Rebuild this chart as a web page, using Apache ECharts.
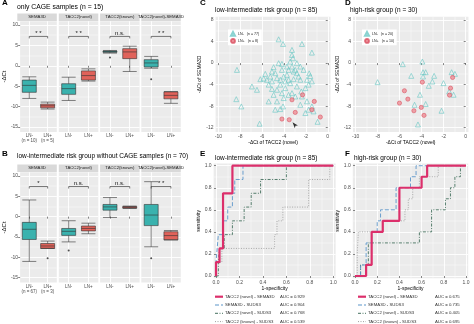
<!DOCTYPE html>
<html><head><meta charset="utf-8">
<script src="https://cdn.jsdelivr.net/npm/echarts@6/dist/echarts.min.js"></script>
<style>html,body{margin:0;padding:0;background:#fff}#c{width:474px;height:324px}</style>
</head><body><div id="c"></div>
<script>
// ---------------- DATA ----------------
const boxCats = ['LN-', 'LN+'];
const nLabelsA = ['(n = 10)', '(n = 5)'];
const nLabelsB = ['(n = 67)', '(n = 3)'];
const facetNames = ['SEMA3D', 'TACC2(novel)', 'TACC2(known)', 'TACC2(novel)-SEMA3D'];
const titleA = 'only CAGE samples (n = 15)';
const titleB = 'low-intermediate risk group without CAGE samples (n = 70)';
const titleC = 'low-intermediate risk group (n = 85)';
const titleD = 'high-risk group (n = 30)';
const titleE = 'low-intermediate risk group (n = 85)';
const titleF = 'high-risk group (n = 30)';
// box stats [min, Q1, median, Q3, max] : [LN-, LN+] per facet
const boxA_SEMA3D = [[-8, -6.5, -4.8, -3.5, -2.7], [-10.6, -10.3, -9.8, -9.4, -8.9]];
const boxA_novel  = [[-8.5, -7, -5.6, -4.4, -2.8], [-3.75, -3.5, -2.4, -1.25, -0.75]];
const boxA_known  = [[3.1, 3.3, 3.45, 3.6, 3.75], [-1.4, 1.75, 3.4, 4.2, 4.8]];
const boxA_diff   = [[-0.6, -0.3, 0.7, 1.5, 2.3], [-9.2, -8.1, -7.25, -6.4, -6.3]];
const boxB_SEMA3D = [[-11, -5.6, -3.1, -1.4, 4.1], [-7.8, -7.8, -7.2, -6.6, -6.0]];
const boxB_novel  = [[-6.2, -4.6, -3.6, -2.9, -1.0], [-4.2, -3.5, -2.9, -2.3, -1.6]];
const boxB_known  = [[-0.2, 1.6, 2.4, 3.0, 4.7], [2.0, 2.1, 2.3, 2.5, 2.6]];
const boxB_diff   = [[-7.4, -2.2, 0.4, 3.0, 8.6], [-5.7, -5.7, -4.65, -3.7, -3.4]];
// outliers [categoryIndex, value]
const outA = [[], [], [[0, 2.0]], [[0, -3.3]]];
const outB = [[[1, -10.2]], [[0, -8.3]], [], [[0, -10.2]]];
const sigA = ['* *', '* *', 'n.s.', '* *'];
const sigB = ['*', 'n.s.', 'n.s.', '* *'];
const bracketLevelA = 7.2, bracketLevelB = 7.4;

const legendC = ['LN-   (n = 77)', 'LN+   (n = 8)'];
const legendD = ['LN-   (n = 20)', 'LN+   (n = 10)'];
const C_neg = [[-4.49,4.42],[-4.09,3.56],[-2.36,3.56],[-1.45,1.95],[-3.27,1.52],[-3.18,0.9],[-8.3,-1.26],[-8.36,-6.7],[-7.9,-8.05],[-6.23,-11.26],
 [-6.93,-4.34],[-6.47,-4.96],[-5.71,-2.0],[-6.16,-2.99],[-5.4,-4.0],[-5.1,-4.8],[-4.49,-0.02],[-4.19,-0.15],[-4.95,-0.76],[-4.8,-1.87],
 [-4.64,-2.8],[-4.34,-3.1],[-4.03,-2.5],[-3.73,-2.18],[-3.58,-1.26],[-3.27,-0.64],[-2.97,-1.26],[-2.82,-1.87],[-2.67,-2.5],[-2.51,-3.1],
 [-3.12,-2.99],[-3.43,-3.73],[-3.88,-4.65],[-4.19,-5.58],[-4.03,-6.5],[-4.64,-7.12],[-5.4,-7.12],[-4.34,-8.54],[-4.8,-8.66],[-2.82,-4.34],
 [-2.42,-5.27],[-2.05,-4.65],[-1.75,-4.0],[-1.6,-2.4],[-1.7,-1.9],[-1.9,-3.1],[-2.36,-6.2],[-1.9,-7.1],[-1.75,-8.66],[-2.05,-9.28],
 [-0.93,-10.9],[-1.3,-8.97],[-3.58,-5.9],[-3.27,-5.58],[-2.97,-6.2],[-5.25,-2.5],[-5.1,-3.4],[-5.56,-3.1],[-4.19,-1.26],[-3.73,-0.64],
 [-3.43,0.29],[-2.82,-0.02],[-2.51,-0.64],[-3.58,-3.1],[-4.34,-4.0],[-4.64,-4.96],[-4.95,-5.9],[-2.51,-7.74],[-1.45,-8.05],[-2.21,-1.26],
 [-3.12,-1.57],[-3.88,-3.4],[-1.45,-3.4],[-4.09,-8.05],[-5.1,-1.57],[-5.86,-2.87],[-3.27,2.45]];
const C_pos = [[-3.27,-6.81],[-2.3,-5.9],[-1.23,-7.12],[-1.45,-8.66],[-2.97,-9.16],[-4.19,-10.39],[-3.52,-10.52],[-0.68,-10.02]];
const C_mark = [[-3.22,-11.0]];
const D_neg = [[-5.72,-0.2],[-3.94,0.29],[-4.95,-2.37],[-3.88,-1.69],[-3.64,-1.69],[-3.88,-2.49],[-2.87,-2.37],[-3.03,-3.42],[-3.36,-4.22],[-2.02,-3.72],
 [-1.28,-1.69],[-0.98,-2.0],[-8.01,-3.54],[-1.5,-5.27],[-1.1,-5.88],[-4.16,-5.88],[-3.64,-7.6],[-4.65,-7.74],[-2.2,-8.85],[-4.34,-11.4]];
const D_pos = [[-3.94,-3.54],[-1.19,-2.67],[-1.38,-4.65],[-1.47,-5.95],[-5.57,-5.14],[-5.26,-6.69],[-6.02,-7.43],[-4.04,-8.23],[-4.71,-8.85],[-3.79,-9.71]];

const rocNames = ['TACC2 (novel) - SEMA3D', 'SEMA3D - SUDS3', 'TACC2 (novel) - SUDS3', 'TACC2 (known) - SUDS3'];
const aucE = ['0.929', '0.904', '0.768', '0.539'];
const aucF = ['0.675', '0.735', '0.405', '0.695'];
// ROC vertices [1-specificity, sensitivity]
const rocE_novelSEMA3D = [[0,0],[0,0.125],[0.03,0.25],[0.06,0.75],[0.14,1],[1,1]];
const rocE_SEMA3DSUDS3 = [[0,0],[0,0.125],[0.01,0.25],[0.02,0.375],[0.06,0.5],[0.1,0.625],[0.14,0.75],[0.16,0.875],[0.23,1],[1,1]];
const rocE_novelSUDS3  = [[0,0],[0.02,0.125],[0.03,0.25],[0.07,0.375],[0.14,0.5],[0.24,0.625],[0.3,0.75],[0.38,0.875],[0.6,1],[1,1]];
const rocE_knownSUDS3  = [[0,0],[0,0.125],[0.05,0.25],[0.5,0.375],[0.52,0.5],[0.57,0.625],[0.79,0.875],[0.97,1],[1,1]];
const rocF_novelSEMA3D = [[0,0],[0.1,0.1],[0.15,0.4],[0.25,0.5],[0.4,0.8],[0.6,0.9],[0.65,1],[1,1]];
const rocF_SEMA3DSUDS3 = [[0,0],[0.05,0.1],[0.1,0.3],[0.15,0.4],[0.2,0.5],[0.23,0.6],[0.37,0.8],[0.5,0.9],[0.55,1],[1,1]];
const rocF_novelSUDS3  = [[0,0],[0.05,0.1],[0.12,0.3],[0.58,0.4],[0.69,0.6],[0.815,0.7],[0.86,0.8],[0.9,0.9],[0.95,1],[1,1]];
const rocF_knownSUDS3  = [[0,0],[0.02,0.2],[0.03,0.4],[0.25,0.5],[0.45,0.6],[0.48,0.7],[0.52,0.8],[0.58,0.9],[0.75,1],[1,1]];

const boxYMajor = [-15, -10, -5, 0, 5, 10];
const boxYMinor = [-12.5, -7.5, -2.5, 2.5, 7.5];
const scXMajor = [-10, -8, -6, -4, -2, 0];
const scXMinor = [-9, -7, -5, -3, -1];
const scYMajor = [-12, -8, -4, 0, 4, 8];
const scYMinor = [-10, -6, -2, 2, 6];
const rocMajor = [0, 0.2, 0.4, 0.6, 0.8, 1.0];
const rocMinor = [0.1, 0.3, 0.5, 0.7, 0.9];

// ---------------- BUILD ----------------
const FONT = '"Liberation Sans", Arial, sans-serif';
const TEAL = '#3AB2AE', RED = '#E0625A';
const grids = [], xAxis = [], yAxis = [], series = [], graphic = [], legend = [];

function addGrid(l, t, w, h) {
  grids.push({left: l, top: t, width: w, height: h, show: true, backgroundColor: '#EBEBEB', borderWidth: 0});
  return grids.length - 1;
}
function valueAxes(list, gi, min, max, majors, minors, labels, fmt, extra) {
  list.push(Object.assign({
    type: 'value', gridIndex: gi, min: min, max: max,
    axisLine: {show: false},
    axisTick: {show: labels, length: 2, lineStyle: {color: '#333', width: 0.6}, customValues: majors},
    axisLabel: {show: labels, customValues: majors, fontSize: 5, color: '#4D4D4D', margin: 2, fontFamily: FONT, formatter: fmt},
    splitLine: {show: true, lineStyle: {color: '#fff', width: 0.9}}
  }, extra || {}));
  const idx = list.length - 1;
  list.push({type: 'value', gridIndex: gi, min: min, max: max, axisLine: {show: false},
    axisTick: {show: false, customValues: minors}, axisLabel: {show: false, customValues: minors},
    splitLine: {show: true, lineStyle: {color: '#fff', width: 0.4}}});
  return idx;
}
function text(t, x, y, size, opts) {
  graphic.push({type: 'text', x: x, y: y, silent: true, z: 100,
    style: Object.assign({text: t, fontSize: size, fontFamily: FONT, fill: '#000', align: 'left', verticalAlign: 'middle'}, opts || {})});
}
function bracket(xi, yi, level, label) {
  series.push({type: 'custom', xAxisIndex: xi, yAxisIndex: yi, silent: true, z: 5, data: [[0, level, 1]],
    renderItem: function (params, api) {
      const p0 = api.coord([0, api.value(1)]);
      const p1 = api.coord([api.value(2), api.value(1)]);
      return {type: 'group', children: [
        {type: 'polyline', shape: {points: [[p0[0], p0[1] + 2], [p0[0], p0[1]], [p1[0], p1[1]], [p1[0], p1[1] + 2]]},
          style: {stroke: '#222', lineWidth: 0.6, fill: null}},
        {type: 'text', x: (p0[0] + p1[0]) / 2, y: p0[1] - 0.3,
          style: {text: label, fontSize: 6, fontFamily: FONT, fill: '#111', align: 'center', verticalAlign: 'bottom'}}
      ]};
    }});
}

const FACET_L = [17.3, 58.8, 100.1, 141.3], FACET_W = 39.5;
const boxPanels = [
  {top: 21.3, h: 110.6, boxes: [boxA_SEMA3D, boxA_novel, boxA_known, boxA_diff], out: outA, sig: sigA, lvl: bracketLevelA, n: nLabelsA},
  {top: 172.3, h: 110.3, boxes: [boxB_SEMA3D, boxB_novel, boxB_known, boxB_diff], out: outB, sig: sigB, lvl: bracketLevelB, n: nLabelsB}
];
boxPanels.forEach(function (P) {
  for (let f = 0; f < 4; f++) {
    const gi = addGrid(FACET_L[f], P.top, FACET_W, P.h);
    xAxis.push({type: 'category', gridIndex: gi, data: boxCats, axisLine: {show: false},
      axisTick: {show: true, alignWithLabel: true, length: 2, lineStyle: {color: '#333', width: 0.6}},
      axisLabel: {interval: 0, fontSize: 4.5, color: '#4D4D4D', margin: 1.5, lineHeight: 5.2, fontFamily: FONT,
        formatter: (function (ff, nl) { return function (v, i) { return ff === 0 ? v + '\n' + nl[i] : v; }; })(f, P.n)},
      splitLine: {show: true, alignWithLabel: true, lineStyle: {color: '#fff', width: 0.9}}});
    const xi = xAxis.length - 1;
    const yi = valueAxes(yAxis, gi, -16.2, 10.9, boxYMajor, boxYMinor, f === 0, null,
      f === 0 ? {name: '-ΔCt', nameLocation: 'middle', nameGap: 9, nameTextStyle: {fontSize: 6, fontFamily: FONT, color: '#000'}} : {});
    series.push({type: 'boxplot', xAxisIndex: xi, yAxisIndex: yi, boxWidth: [14, 14], silent: true,
      itemStyle: {borderColor: '#333', borderWidth: 0.6},
      data: [{value: P.boxes[f][0], itemStyle: {color: TEAL}}, {value: P.boxes[f][1], itemStyle: {color: RED}}]});
    series.push({type: 'scatter', xAxisIndex: xi, yAxisIndex: yi, symbolSize: 2, silent: true,
      itemStyle: {color: '#222'}, data: P.out[f]});
    bracket(xi, yi, P.lvl, P.sig[f]);
    graphic.push({type: 'rect', silent: true, shape: {x: FACET_L[f], y: P.top - 7.8, width: FACET_W, height: 7.6}, style: {fill: '#D9D9D9'}});
    text(facetNames[f], FACET_L[f] + FACET_W / 2, P.top - 4, 4.3, {align: 'center', fill: '#1A1A1A'});
  }
});

// scatter panels
const scPanels = [
  {l: 215.6, w: 114.9, neg: C_neg, pos: C_pos, names: legendC, legL: 228, nameGapY: 8},
  {l: 352.95, w: 115.5, neg: D_neg, pos: D_pos, names: legendD, legL: 362, nameGapY: 8}
];
scPanels.forEach(function (P, k) {
  const gi = addGrid(P.l, 16.8, P.w, 115.2);
  const xi = valueAxes(xAxis, gi, -10.25, 0.25, scXMajor, scXMinor, true, null,
    {name: '-ΔCt of TACC2 (novel)', nameLocation: 'middle', nameGap: 7, nameTextStyle: {fontSize: 5, fontFamily: FONT, color: '#000'}});
  const yi = valueAxes(yAxis, gi, -12.8, 8.6, scYMajor, scYMinor, true, null,
    {name: '-ΔCt of SEMA3D', nameLocation: 'middle', nameGap: P.nameGapY, nameTextStyle: {fontSize: 5, fontFamily: FONT, color: '#000'}});
  series.push({type: 'scatter', name: P.names[0], xAxisIndex: xi, yAxisIndex: yi, symbol: 'triangle', symbolSize: 5, silent: true,
    itemStyle: {color: 'rgba(0,0,0,0)', borderColor: '#6CC8C5', borderWidth: 0.8}, data: P.neg});
  series.push({type: 'scatter', name: P.names[1], xAxisIndex: xi, yAxisIndex: yi, symbol: 'circle', symbolSize: 4.2, silent: true,
    itemStyle: {color: '#EE8D95', borderColor: '#D94B5C', borderWidth: 0.7}, data: P.pos});
  if (k === 0) series.push({type: 'scatter', xAxisIndex: xi, yAxisIndex: yi, symbol: 'arrow', symbolRotate: 40, symbolSize: [3, 6], silent: true,
    itemStyle: {color: '#000'}, data: C_mark});
  legend.push({data: P.names, left: P.legL, top: 29.5, orient: 'vertical', backgroundColor: '#fff', padding: [1.5, 2.5, 1.5, 2],
    itemGap: 1.2, itemWidth: 4, itemHeight: 3.8, selectedMode: false,
    textStyle: {fontSize: 3.6, fontFamily: FONT, color: '#222', padding: [0, 0, 0, -2]}});
});

// ROC panels
const rocStyles = [
  {color: '#DC2F6B', width: 2.2, type: 'solid'},
  {color: '#5B95C9', width: 0.9, type: [4, 2]},
  {color: '#44705E', width: 0.9, type: [3, 1.5, 1, 1.5]},
  {color: '#A0A0A0', width: 0.9, type: [1, 1.5]}
];
const rocPanels = [
  {l: 213.65, w: 122, curves: [rocE_novelSEMA3D, rocE_SEMA3DSUDS3, rocE_novelSUDS3, rocE_knownSUDS3], auc: aucE, symX: 215, txtX: 225, aucX: 280, gapY: 9},
  {l: 352.8, w: 115.4, curves: [rocF_novelSEMA3D, rocF_SEMA3DSUDS3, rocF_novelSUDS3, rocF_knownSUDS3], auc: aucF, symX: 358, txtX: 368, aucX: 435, gapY: 8}
];
const legRows = [296.7, 305, 313.3, 321.6];
rocPanels.forEach(function (P) {
  const gi = addGrid(P.l, 163.5, P.w, 114.7);
  const fmt = function (v) { return v.toFixed(1); };
  const xi = valueAxes(xAxis, gi, -0.02, 1.02, rocMajor, rocMinor, true, fmt,
    {name: '1-specificity', nameLocation: 'middle', nameGap: 6.5, nameTextStyle: {fontSize: 5, fontFamily: FONT, color: '#000'}});
  const yi = valueAxes(yAxis, gi, -0.02, 1.02, rocMajor, rocMinor, true, fmt,
    {name: 'sensitivity', nameLocation: 'middle', nameGap: P.gapY, nameTextStyle: {fontSize: 5, fontFamily: FONT, color: '#000'}});
  for (let c = 3; c >= 0; c--) {
    series.push({type: 'line', name: rocNames[c], xAxisIndex: xi, yAxisIndex: yi, step: 'end', symbol: 'none', silent: true,
      lineStyle: rocStyles[c], data: P.curves[c], z: 3 + (3 - c)});
  }
  for (let c = 0; c < 4; c++) {
    const y = legRows[c];
    graphic.push({type: 'line', silent: true, shape: {x1: P.symX, y1: y, x2: P.symX + 8, y2: y},
      style: {stroke: rocStyles[c].color, lineWidth: c === 0 ? 2.2 : 1, lineDash: c === 0 ? null : rocStyles[c].type}});
    text(rocNames[c], P.txtX, y, 4.3, {fill: '#333'});
    text('AUC = ' + P.auc[c], P.aucX, y, 4.3, {fill: '#333'});
  }
});

// titles and panel letters
text(titleA, 17, 6.7, 6.8);
text(titleB, 17, 156.7, 6.5);
text(titleC, 215, 10, 6.5);
text(titleD, 350, 10, 6.5);
text(titleE, 215, 158.3, 6.5);
text(titleF, 354, 158.3, 6.5);
[['A', 2, 3], ['B', 2, 153.5], ['C', 200, 3], ['D', 345, 3], ['E', 200, 153.5], ['F', 345, 153.5]].forEach(function (a) {
  text(a[0], a[1], a[2], 8, {fontWeight: 'bold'});
});

const chart = echarts.init(document.getElementById('c'), null, {renderer: 'canvas'});
chart.setOption({animation: false, backgroundColor: '#fff', grid: grids, xAxis: xAxis, yAxis: yAxis, series: series, graphic: graphic, legend: legend});
</script></body></html>
